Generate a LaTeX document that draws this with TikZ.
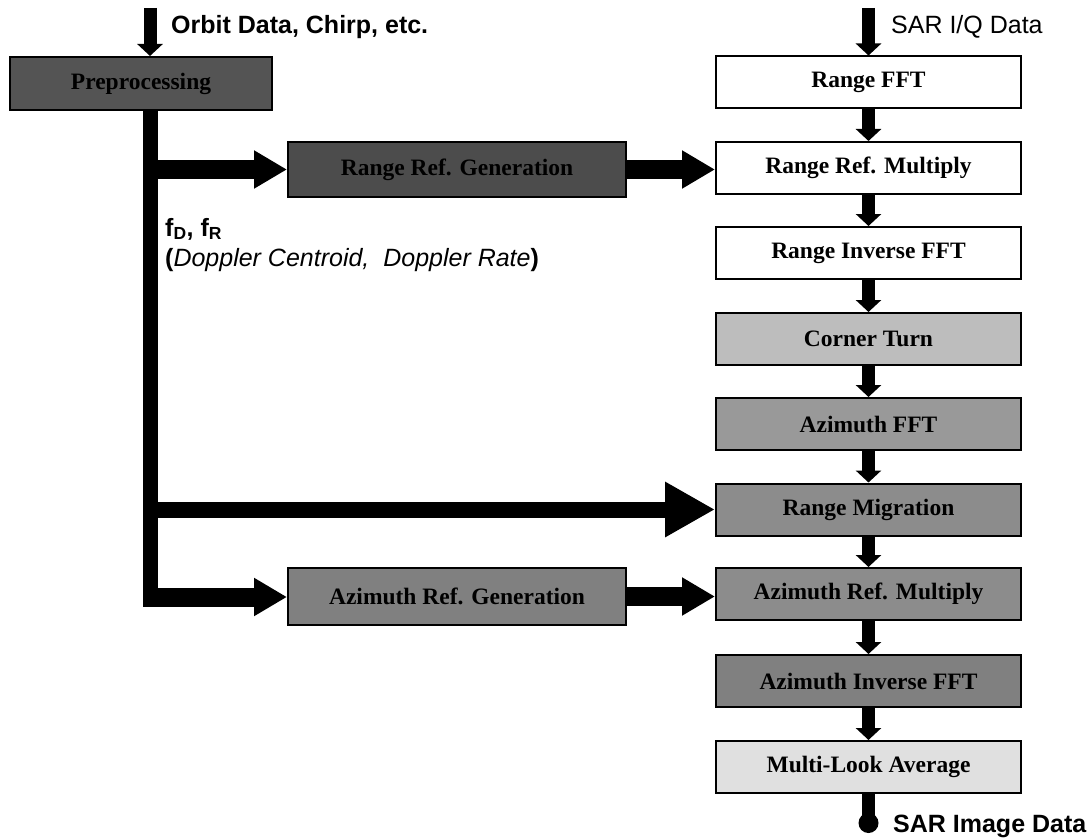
\documentclass[tikz,border=0pt]{standalone}
\usepackage{fontspec}
\setmainfont{Liberation Serif}
\setsansfont{Liberation Sans}
\usetikzlibrary{arrows.meta}
\definecolor{cdark}{gray}{0.33}
\definecolor{cdarker}{gray}{0.30}
\definecolor{cmid}{gray}{0.50}
\definecolor{cmidb}{gray}{0.55}
\definecolor{cmidc}{gray}{0.60}
\definecolor{clight}{gray}{0.74}
\definecolor{cpale}{gray}{0.88}
\tikzset{
  box/.style={draw=black, line width=2pt, minimum width=305pt, minimum height=52pt,
    inner sep=0pt, font=\fontsize{23.5}{27}\selectfont\bfseries, text=black},
  sidebox/.style={draw=black, line width=2pt, minimum height=54pt, inner sep=0pt,
    font=\fontsize{23.5}{27}\selectfont\bfseries, text=black},
  lab/.style={inner sep=0pt, anchor=west, font=\sffamily\fontsize{25}{29}\selectfont},
  labb/.style={inner sep=0pt, anchor=base west, font=\sffamily\fontsize{25}{29}\selectfont},
  vflow/.style={line width=13pt, -{Triangle[length=12pt,width=25pt]}},
  hflowA/.style={line width=19pt, -{Triangle[length=33pt,width=36pt]}},
  hflowB/.style={line width=16pt, -{Triangle[length=50pt,width=52pt]}},
}
\begin{document}
\begin{tikzpicture}[x=1pt,y=-1pt]
\useasboundingbox (0,0) rectangle (1089,840);
\fill[white] (0,0) rectangle (1089,840);

% right column
\node[box, fill=white]   (rfft)  at (868.5,82.5) {Range FFT};
\node[box, fill=white]   (rrm)   at (868.5,168) {Range Ref. Multiply};
\node[box, fill=white]   (rifft) at (868.5,253) {Range Inverse FFT};
\node[box, fill=clight]  (ct)    at (868.5,339) {Corner Turn};
\node[box, fill=cmidc]   (afft)  at (868.5,424) {Azimuth FFT};
\node[box, fill=cmidb]   (rm)    at (868.5,509.5) {Range Migration};
\node[box, fill=cmidb]   (arm)   at (868.5,594) {Azimuth Ref. Multiply};
\node[box, fill=cmid]    (aifft) at (868.5,681) {Azimuth Inverse FFT};
\node[box, fill=cpale]   (mla)   at (868.5,767) {Multi-Look Average};

% left column
\node[sidebox, fill=cdark, minimum width=262pt, minimum height=53pt] (pre) at (141,83.5) {Preprocessing};
\node[sidebox, fill=cdarker, minimum width=338pt, minimum height=55pt] (rrg) at (457,169.5) {Range Ref. Generation};
\node[sidebox, fill=cmid, minimum width=338pt, minimum height=57pt] (arg) at (457,596.5) {Azimuth Ref. Generation};

% inputs
\coordinate (inL) at (150,8);
\coordinate (inR) at (868.5,8);
\draw[vflow] (inL) -- (inL |- pre.north);
\draw[vflow] (inR) -- (rfft.north);

% right chain
\draw[vflow] (rfft) -- (rrm);
\draw[vflow] (rrm) -- (rifft);
\draw[vflow] (rifft) -- (ct);
\draw[vflow] (ct) -- (afft);
\draw[vflow] (afft) -- (rm);
\draw[vflow] (rm) -- (arm);
\draw[vflow] (arm) -- (aifft);
\draw[vflow] (aifft) -- (mla);

% output
\node[circle, fill=black, minimum size=20pt, inner sep=0pt] (out) at (868.5,823) {};
\draw[line width=13pt] (mla.south) -- (out.center);

% bus
\coordinate (busT) at (150,110);
\coordinate (busB) at (150,607);
\coordinate (b1) at (150,169.5);
\coordinate (b2) at (150,509.5);
\coordinate (b3) at (150,597);
\draw[line width=15pt] (busT) -- (busB);
\draw[hflowA] (b1) -- (rrg.west);
\draw[hflowA] (rrg.east) -- (rrg.east -| rrm.west);
\draw[hflowB] (b2) -- (rm.west);
\draw[hflowA] (b3) -- (b3 -| arg.west);
\draw[hflowA] (arg.east) -- (arg.east -| arm.west);

% labels
\node[lab] (orbit) at (171,27) {\bfseries Orbit Data, Chirp, etc.};
\node[lab] (sariq) at (891,27) {SAR I/Q Data};
\node[labb] (fd) at (165,236) {\bfseries f\textsubscript{D}, f\textsubscript{R}};
\node[labb] (dop) at (165,266) {\textbf{(}\textit{Doppler Centroid,\ \ Doppler Rate}\textbf{)}};
\node[lab] (sarimg) at (893,826) {\bfseries SAR Image Data};
\end{tikzpicture}
\end{document}
